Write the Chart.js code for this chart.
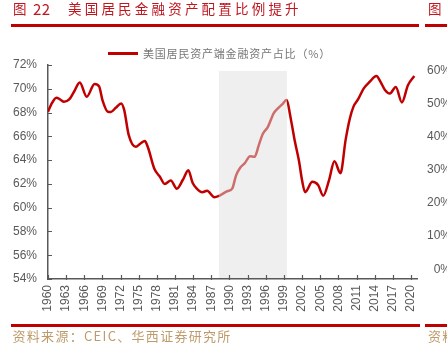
<!DOCTYPE html>
<html lang="zh">
<head>
<meta charset="UTF-8">
<title>美国居民金融资产配置比例提升</title>
<script src="https://cdn.jsdelivr.net/npm/chart.js"></script>
<style>
  body { margin: 0; background: #fff; }
  #page { position: relative; width: 447px; height: 350px; overflow: hidden; font-family: "Noto Sans CJK SC", sans-serif; }
  #chartBox { position: absolute; left: 0; top: 0; width: 447px; height: 350px; }
  .abs { position: absolute; white-space: nowrap; line-height: 1; }
  .rule { position: absolute; background: #c00000; }
  .title { color: #c0161e; font-size: 13.5px; letter-spacing: 3.2px; top: 1.5px; }
  .legend { color: #777; font-size: 11px; top: 47.8px; left: 143px; letter-spacing: 0.8px; }
  .source { color: #bf9b6b; font-size: 13px; top: 328.5px; letter-spacing: 1.3px; }
  .rax { font-family: "Liberation Sans", sans-serif; color: #595959; font-size: 12px; left: 400px; width: 51px; text-align: right; }
</style>
</head>
<body>
<div id="page">
  <div id="chartBox"><canvas id="myChart"></canvas></div>

  <!-- title and frame -->
  <div class="abs title" style="left:13px;">图</div>
  <div class="abs title" style="left:33px; top:0.5px; font-size:15px; letter-spacing:0.3px;">22</div>
  <div class="abs title" style="left:68px;">美国居民金融资产配置比例提升</div>
  <div class="rule" style="left:11px; top:23.5px; width:408px; height:3px;"></div>

  <!-- legend -->
  <div class="rule" style="left:108px; top:52px; width:30px; height:2.5px;"></div>
  <div class="abs legend">美国居民资产端金融资产占比（%）</div>

  <div class="rule" style="left:11px; top:323.5px; width:409px; height:3px;"></div>
  <div class="abs source" style="left:12.5px;">资料来源：CEIC、华西证券研究所</div>

  <!-- edge of the next chart -->
  <div class="abs title" style="left:428px;">图</div>
  <div class="rule" style="left:425px; top:23.5px; width:30px; height:3px;"></div>
  <div class="abs rax" style="top:63.5px;">60%</div>
  <div class="abs rax" style="top:96.5px;">50%</div>
  <div class="abs rax" style="top:129.5px;">40%</div>
  <div class="abs rax" style="top:162.5px;">30%</div>
  <div class="abs rax" style="top:195.5px;">20%</div>
  <div class="abs rax" style="top:229px;">10%</div>
  <div class="abs rax" style="top:262.5px;">0%</div>
  <div class="rule" style="left:425px; top:323.5px; width:30px; height:3px;"></div>
  <div class="abs source" style="left:428px;">资料</div>
</div>

<script>
// years (decimal, quarterly data) and share of financial assets in household assets (%)
var years = [
  1960.0, 1960.5, 1961.4, 1962.0, 1962.65, 1963.5, 1964.3, 1965.25, 1966.4, 1967.7,
  1968.45, 1969.0, 1969.9, 1970.4, 1971.2, 1972.1, 1972.6, 1973.35, 1974.5, 1975.3,
  1976.0, 1976.5, 1977.6, 1978.5, 1979.3, 1980.3, 1981.3, 1982.3, 1983.2, 1983.9,
  1984.6, 1985.5, 1986.3, 1987.5, 1988.3, 1989.7, 1990.45, 1991.1, 1991.8, 1992.5,
  1993.4, 1994.15, 1994.85, 1995.5, 1996.35, 1997.3, 1998.0, 1998.75, 1999.4, 2000.2,
  2000.8, 2001.5, 2002.0, 2002.5, 2003.7, 2004.65, 2005.5, 2006.45, 2007.35, 2008.35,
  2009.2, 2009.9, 2010.5, 2011.25, 2012.2, 2013.2, 2014.3, 2014.95, 2015.7, 2016.5,
  2017.5, 2018.5, 2019.5, 2020.55
];
var shares = [
  68.07, 68.65, 69.25, 69.1, 68.9, 69.1, 69.75, 70.52, 69.33, 70.4,
  70.2, 69.05, 68.07, 68.05, 68.4, 68.77, 68.2, 66.1, 65.12, 65.4,
  65.6, 65.1, 63.25, 62.6, 62.0, 62.28, 61.6, 62.35, 63.15, 62.1,
  61.6, 61.3, 61.42, 60.88, 61.0, 61.4, 61.6, 62.73, 63.38, 63.72,
  64.33, 64.28, 65.26, 66.2, 66.8, 67.93, 68.35, 68.71, 69.05, 67.3,
  65.6, 63.9, 62.3, 61.3, 62.17, 61.9, 61.0, 62.3, 63.9, 62.9,
  65.7, 67.5, 68.5, 69.1, 70.03, 70.6, 71.07, 70.6, 69.9, 69.6,
  70.15, 68.85, 70.3, 71.07
];
var tickYears = [1960, 1963, 1966, 1969, 1972, 1975, 1978, 1981, 1984, 1987, 1990,
  1993, 1996, 1999, 2002, 2005, 2008, 2011, 2014, 2017, 2020];

// grey band
var shadeFrom = 1988.25;
var shadeTo = 1999.5;
var shadeTop = 71.5;

var axisGrey = '#595959';

var shadeBand = {
  id: 'shadeBand',
  afterDatasetsDraw(chart) {
    var ctx = chart.ctx, a = chart.chartArea, x = chart.scales.x, y = chart.scales.y;
    var x0 = x.getPixelForValue(shadeFrom), x1 = x.getPixelForValue(shadeTo);
    var y0 = y.getPixelForValue(shadeTop);
    ctx.save();
    ctx.fillStyle = 'rgba(223,223,223,0.49)';
    ctx.fillRect(x0, y0, x1 - x0, a.bottom - 1 - y0);
    ctx.restore();
  }
};

// small tick marks pointing into the plot
var inwardTicks = {
  id: 'inwardTicks',
  afterDraw(chart) {
    var ctx = chart.ctx, a = chart.chartArea, x = chart.scales.x, y = chart.scales.y;
    ctx.save();
    ctx.strokeStyle = axisGrey;
    ctx.lineWidth = 1.2;
    ctx.beginPath();
    y.ticks.forEach(function (t) {
      var py = Math.round(y.getPixelForValue(t.value)) + 0.5;
      ctx.moveTo(a.left - 1, py);
      ctx.lineTo(a.left + 4, py);
    });
    x.ticks.forEach(function (t) {
      var px = Math.round(x.getPixelForValue(t.value)) + 0.5;
      ctx.moveTo(px, a.bottom + 1);
      ctx.lineTo(px, a.bottom - 4);
    });
    ctx.stroke();
    ctx.restore();
  }
};

var ctx = document.getElementById('myChart').getContext('2d');
var myChart = new Chart(ctx, {
  type: 'line',
  data: {
    datasets: [{
      label: '美国居民资产端金融资产占比（%）',
      data: years.map(function (yr, i) { return { x: yr, y: shares[i] }; }),
      borderColor: '#c00000',
      borderWidth: 2.5,
      pointRadius: 0,
      cubicInterpolationMode: 'monotone',
      fill: false
    }]
  },
  options: {
    responsive: true,
    maintainAspectRatio: false,
    animation: false,
    layout: { padding: { top: 65, right: 30, bottom: 21, left: 0 } },
    plugins: {
      legend: { display: false },
      tooltip: { enabled: false }
    },
    scales: {
      x: {
        type: 'linear',
        min: 1960,
        max: 2021,
        grid: { display: false, drawTicks: false },
        border: { color: axisGrey, width: 1.5 },
        afterBuildTicks: function (s) { s.ticks = tickYears.map(function (v) { return { value: v }; }); },
        afterFit: function (s) { s.height = 50; },
        ticks: {
          autoSkip: false,
          minRotation: 90,
          maxRotation: 90,
          padding: 6,
          color: axisGrey,
          font: { family: 'Liberation Sans', size: 12 },
          callback: function (v) { return String(v); }
        }
      },
      y: {
        min: 54,
        max: 72,
        grid: { display: false, drawTicks: false },
        border: { color: axisGrey, width: 1.5 },
        afterFit: function (s) { s.width = 48; },
        ticks: {
          stepSize: 2,
          padding: 11,
          color: axisGrey,
          font: { family: 'Liberation Sans', size: 12 },
          callback: function (v) { return v + '%'; }
        }
      }
    }
  },
  plugins: [shadeBand, inwardTicks]
});
</script>
</body>
</html>
